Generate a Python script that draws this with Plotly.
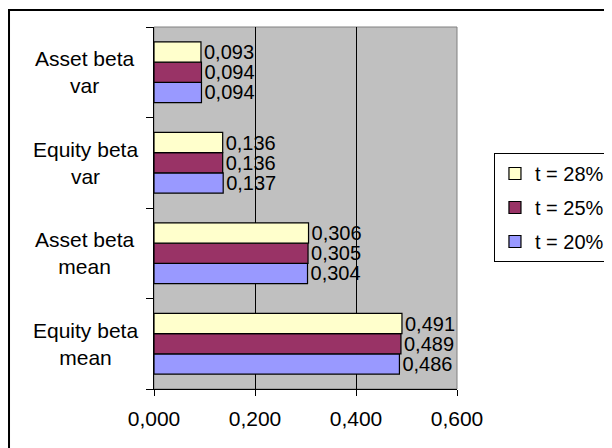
import plotly.graph_objects as go

categories = ["Equity beta mean", "Asset beta mean", "Equity beta var", "Asset beta var"]
category_labels = ["Equity beta<br>mean", "Asset beta<br>mean", "Equity beta<br>var", "Asset beta<br>var"]
series_names = ["t = 20%", "t = 25%", "t = 28%"]
values_t20 = [0.486, 0.304, 0.137, 0.094]
values_t25 = [0.489, 0.305, 0.136, 0.094]
values_t28 = [0.491, 0.306, 0.136, 0.093]
x_ticks = [0.0, 0.2, 0.4, 0.6]
x_tick_labels = ["0,000", "0,200", "0,400", "0,600"]

colors = ["#9999FF", "#993366", "#FFFFCC"]
ranks = [3, 2, 1]
FONT = "Liberation Sans, Arial, sans-serif"
FS = 21

def fmt(v):
    return f"{v:.3f}".replace(".", ",")

fig = go.Figure()
for i, (name, vals) in enumerate(zip(series_names, [values_t20, values_t25, values_t28])):
    fig.add_trace(go.Bar(
        y=categories, x=vals, name=name, orientation="h",
        marker=dict(color=colors[i], line=dict(color="black", width=1.2)),
        text=[fmt(v) for v in vals], textposition="outside",
        textfont=dict(family=FONT, size=20, color="black"),
        constraintext="none", cliponaxis=False,
        legendgroup=name, legendrank=ranks[i],
    ))

# centered two-line category labels
for cat, lab in zip(categories, category_labels):
    fig.add_annotation(x=-0.2277, xref="paper", y=cat, yref="y", text=lab,
                       showarrow=False, xanchor="center", yanchor="middle", align="center",
                       font=dict(family=FONT, size=FS, color="black"))

# plot-area border (gray) drawn over gridlines
fig.add_shape(type="rect", xref="paper", yref="paper", x0=0, x1=1, y0=0, y1=1,
              line=dict(color="#808080", width=1), fillcolor="rgba(0,0,0,0)", layer="between")
# outer chart border (partly cropped)
fig.add_shape(type="rect", xref="paper", yref="paper", x0=-0.4785, x1=1.7, y0=-0.3, y1=1.047,
              line=dict(color="black", width=2), fillcolor="rgba(0,0,0,0)", layer="above")

fig.update_layout(
    width=604, height=440,
    margin=dict(l=146, r=155, t=19, b=59, autoexpand=False),
    paper_bgcolor="white", plot_bgcolor="#C0C0C0",
    barmode="group", bargap=0.33, bargroupgap=0,
    font=dict(family=FONT, size=FS, color="black"),
    showlegend=True,
    legend=dict(x=1.122, xanchor="left", y=0.652, yanchor="top",
                traceorder="grouped", tracegroupgap=5,
                bordercolor="black", borderwidth=1, bgcolor="white",
                font=dict(family=FONT, size=20, color="black"),
                itemwidth=30),
)
fig.update_xaxes(range=[0, 0.6], tickvals=x_ticks, ticktext=x_tick_labels,
                 showgrid=True, gridcolor="black", gridwidth=1, zeroline=False,
                 showline=True, linecolor="black", linewidth=1,
                 ticks="outside", ticklen=6, tickcolor="black",
                 ticklabelstandoff=5, fixedrange=True, automargin=False)
fig.update_yaxes(categoryorder="array", categoryarray=categories,
                 showticklabels=False, tickson="boundaries",
                 ticks="outside", ticklen=7, tickcolor="black",
                 showline=True, linecolor="black", linewidth=1,
                 showgrid=False, zeroline=False, fixedrange=True, automargin=False)

fig.write_html("out.html")
